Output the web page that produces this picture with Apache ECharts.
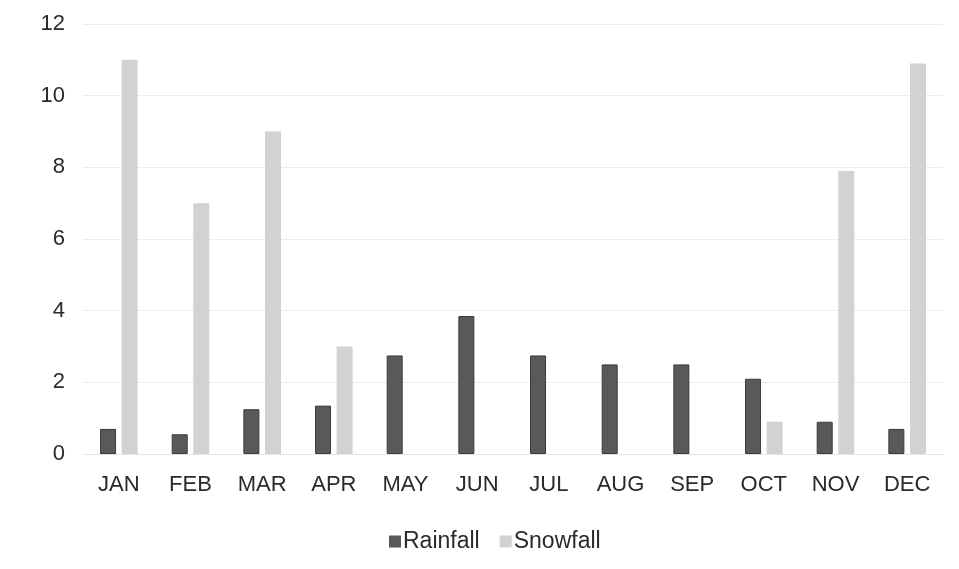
<!DOCTYPE html>
<html>
<head>
<meta charset="utf-8">
<script src="https://cdn.jsdelivr.net/npm/echarts@6/dist/echarts.min.js"></script>
<style>
  html, body { margin: 0; padding: 0; background: #fff; }
  #chart { width: 959px; height: 569px; }
</style>
</head>
<body>
<div id="chart"></div>
<script>
var months = ["JAN", "FEB", "MAR", "APR", "MAY", "JUN", "JUL", "AUG", "SEP", "OCT", "NOV", "DEC"];
var rainfall = [0.7, 0.55, 1.25, 1.35, 2.75, 3.85, 2.75, 2.5, 2.5, 2.1, 0.9, 0.7];
var snowfall = [11, 7, 9, 3, 0, 0, 0, 0, 0, 0.9, 7.9, 10.9];
var yTicks = { min: 0, max: 12, step: 2 };

var chart = echarts.init(document.getElementById("chart"));
var txt = { color: "#2a2a2a", fontFamily: "Liberation Sans, Arial, sans-serif", fontSize: 22 };

chart.setOption({
    animation: false,
    grid: { left: 83, right: 16, top: 24, bottom: 115 },
    legend: {
        left: 384,
        top: 525,
        itemWidth: 12,
        itemHeight: 12,
        itemGap: 20,
        icon: "rect",
        itemStyle: { borderWidth: 0 },
        textStyle: { color: txt.color, fontFamily: txt.fontFamily, fontSize: 23, padding: [0, 0, 0, -3] },
        data: ["Rainfall", "Snowfall"]
    },
    xAxis: {
        type: "category",
        data: months,
        axisTick: { show: false },
        axisLine: { lineStyle: { color: "#e4e4e4", width: 1 } },
        axisLabel: { color: txt.color, fontFamily: txt.fontFamily, fontSize: txt.fontSize, margin: 20 }
    },
    yAxis: {
        type: "value",
        min: yTicks.min,
        max: yTicks.max,
        interval: yTicks.step,
        axisLine: { show: false },
        axisTick: { show: false },
        axisLabel: { color: txt.color, fontFamily: txt.fontFamily, fontSize: txt.fontSize, margin: 18 },
        splitLine: { lineStyle: { color: "#ececec", width: 1 } }
    },
    series: [
        {
            name: "Rainfall",
            type: "bar",
            data: rainfall,
            barWidth: 16,
            barGap: "35%",
            itemStyle: { color: "#595959", borderColor: "#3a3a3a", borderWidth: 1 }
        },
        {
            name: "Snowfall",
            type: "bar",
            data: snowfall,
            barWidth: 16,
            itemStyle: { color: "#d2d2d2" }
        }
    ]
});
</script>
</body>
</html>
